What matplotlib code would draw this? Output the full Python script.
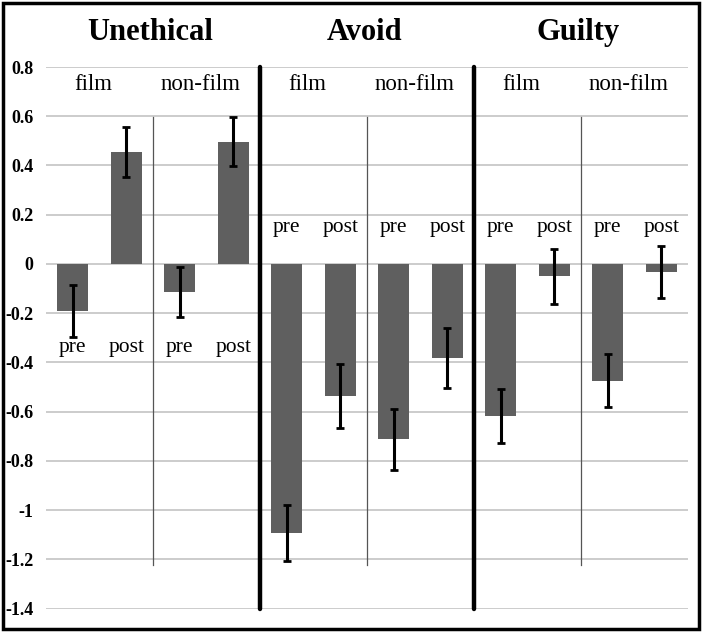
import matplotlib
matplotlib.use("Agg")
import matplotlib.pyplot as plt
from matplotlib.patches import Rectangle

# Data
groups = ["Unethical", "Avoid", "Guilty"]
conditions = ["film", "non-film"]
times = ["pre", "post"]
values = [-0.19, 0.455, -0.115, 0.497,
          -1.094, -0.537, -0.713, -0.383,
          -0.618, -0.05, -0.475, -0.034]
errors = [0.105, 0.10, 0.102, 0.098,
          0.115, 0.131, 0.125, 0.123,
          0.11, 0.111, 0.108, 0.105]
yticks = [0.8, 0.6, 0.4, 0.2, 0, -0.2, -0.4, -0.6, -0.8, -1, -1.2, -1.4]

serif = "Liberation Serif"
bar_color = "#5f5f5f"

fig = plt.figure(figsize=(7.03, 6.33), dpi=100)
ax = fig.add_axes([46 / 703, 1 - 608.5 / 633, 642 / 703, (608.5 - 67) / 633])

x = list(range(len(values)))
ax.bar(x, values, width=0.58, color=bar_color, zorder=2)
ax.errorbar(x, values, yerr=errors, fmt="none", ecolor="black",
            elinewidth=2.2, capsize=2.8, capthick=2, zorder=3)

ax.set_xlim(-0.5, 11.5)
ax.set_ylim(-1.4, 0.8)
ax.set_yticks(yticks)
ax.set_yticklabels([f"{t:g}" for t in yticks], fontfamily=serif,
                   fontweight="bold", fontsize=13)
ax.set_xticks([])
ax.tick_params(axis="y", length=0, pad=9)
ax.grid(axis="y", color="#c8c8c8", linewidth=1.3, zorder=0)
ax.set_axisbelow(True)
for s in ax.spines.values():
    s.set_visible(False)

# separators
for gx in [3.5, 7.5]:
    ax.plot([gx, gx], [-1.4, 0.8], color="black", linewidth=3.2,
            solid_capstyle="round", zorder=4, clip_on=False)
for cx in [1.5, 5.5, 9.5]:
    ax.plot([cx, cx], [-1.222, 0.597], color="#555555", linewidth=0.9, zorder=1)

# labels
for gi, g in enumerate(groups):
    gc = gi * 4 + 1.5
    ax.text(gc - 0.05, 0.94, g, ha="center", va="center", fontfamily=serif,
            fontweight="bold", fontsize=22, clip_on=False)
    for ci, c in enumerate(conditions):
        cc = gi * 4 + ci * 2 + 0.5
        ax.text(cc - 0.12, 0.73, c, ha="center", va="center",
                fontfamily=serif, fontsize=16.5)
        for ti, t in enumerate(times):
            bx = gi * 4 + ci * 2 + ti
            ty = -0.34 if gi == 0 else 0.146
            ax.text(bx, ty, t, ha="center", va="center",
                    fontfamily=serif, fontsize=15.5)

# outer frame
fig.patches.append(Rectangle((3 / 703, 4 / 633), 696 / 703, 626 / 633,
                             transform=fig.transFigure, fill=False,
                             edgecolor="black", linewidth=2.5))

fig.savefig("out.png", dpi=100)
